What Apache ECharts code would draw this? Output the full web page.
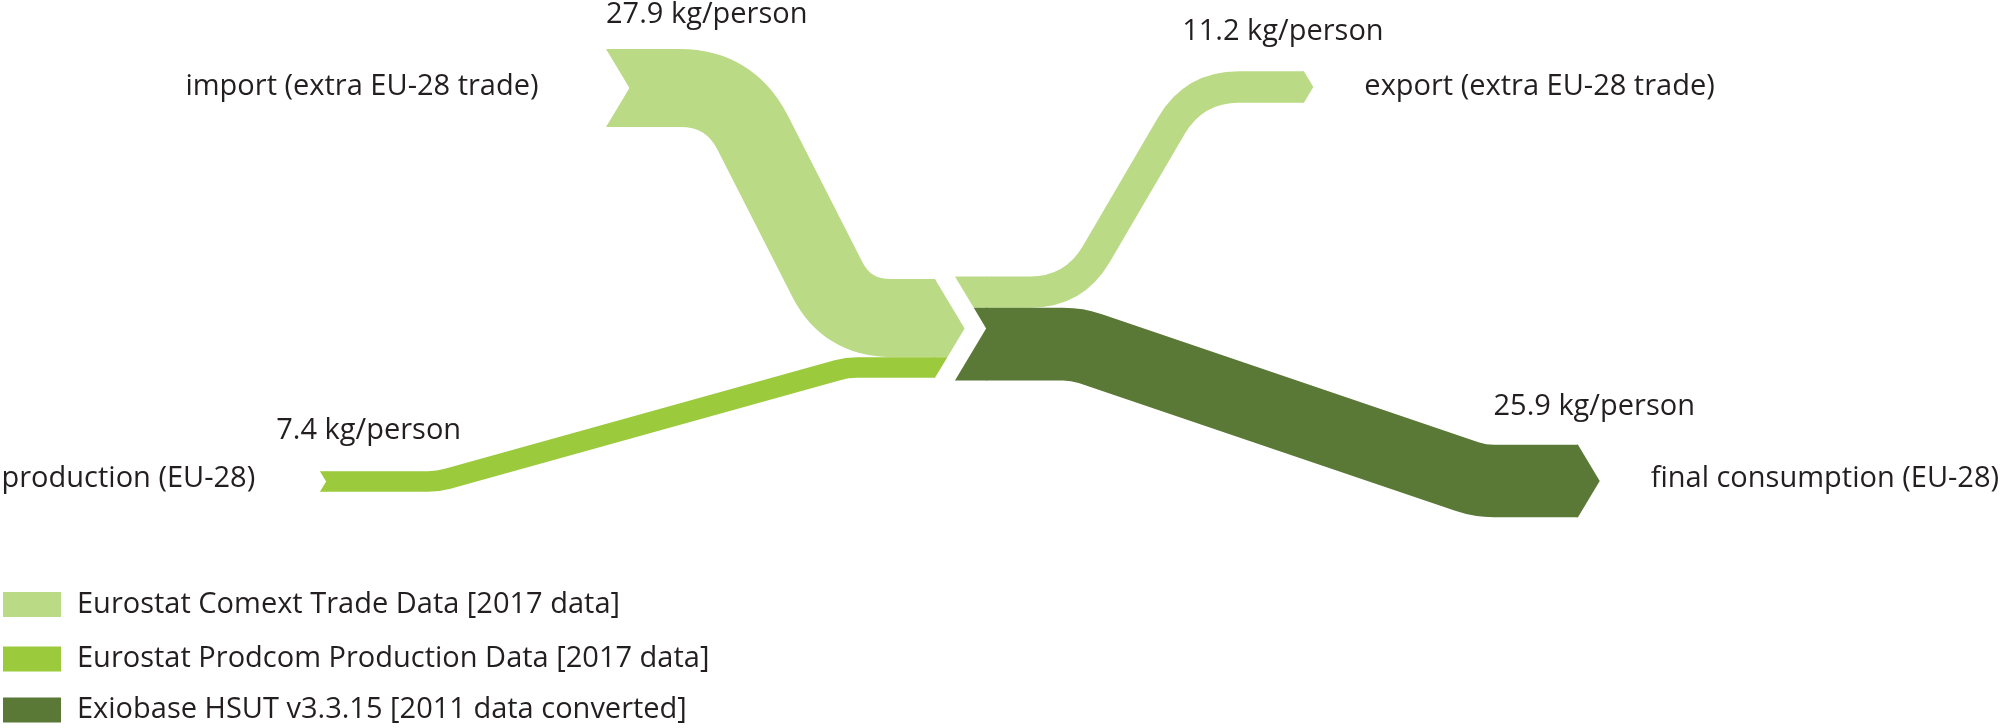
<!DOCTYPE html>
<html><head><meta charset="utf-8">
<script src="https://cdn.jsdelivr.net/npm/echarts@6/dist/echarts.min.js"></script>
<style>html,body{margin:0;padding:0;background:#fff}#c{width:2002px;height:728px}</style>
</head><body><div id="c"></div>
<script>
// ---------------- data ----------------
const flowNames  = ['import (extra EU-28 trade)', 'production (EU-28)', 'export (extra EU-28 trade)', 'final consumption (EU-28)'];
const flowValues = [27.9, 7.4, 11.2, 25.9];            // kg/person
const flowUnit   = 'kg/person';
const flowSide   = ['in', 'in', 'out', 'out'];         // into / out of the EU-28 hub
const flowSource = [0, 1, 0, 2];                       // index into sourceNames
const sourceNames = ['Eurostat Comext Trade Data [2017 data]',
                     'Eurostat Prodcom Production Data [2017 data]',
                     'Exiobase HSUT v3.3.15 [2011 data converted]'];

// ---------------- layout (x: % of width, y: kg/person from top) ----------------
const hubLayout = { xIn: 46.70, xOut: 47.70, y: 117.3 };
const flowLayout = [
  { outerX: 30.27, outerY: 31.43,  bendOuter: 36.46, bendHub: 42.31, round: 52,
    name: [26.9, 31.1, 'right'], val: [30.27, 5.4] },
  { outerX: 15.98, outerY: 171.96, bendOuter: 21.88, bendHub: 42.31, round: 10,
    name: [12.75, 171.1, 'right'], val: [13.8, 153.9] },
  { outerX: 65.13, outerY: 31.07,  bendOuter: 59.64, bendHub: 53.65, round: 45,
    name: [68.15, 31.1, 'left'], val: [59.05, 11.4] },
  { outerX: 78.82, outerY: 171.79, bendOuter: 73.93, bendHub: 53.80, round: 14,
    name: [82.45, 171.1, 'left'], val: [74.6, 145.4] }
];
const legendTops = [590, 644.5, 695.5];
const sourceColors = ['#bbda85', '#9bca3c', '#5a7936'];
const arrowRatio = 0.3;
const textColor = '#231f20';
const font = '29px "Open Sans"';

function fmt(p) { return p[0].toFixed(2) + ' ' + p[1].toFixed(2); }
function roundedPath(pts, r) {
  let d = 'M' + fmt(pts[0]);
  for (let i = 1; i < pts.length - 1; i++) {
    const a = pts[i - 1], p = pts[i], b = pts[i + 1];
    const l1 = Math.hypot(p[0] - a[0], p[1] - a[1]);
    const l2 = Math.hypot(b[0] - p[0], b[1] - p[1]);
    const t = Math.min(r, l1 / 2, l2 / 2);
    const s = [p[0] - (p[0] - a[0]) / l1 * t, p[1] - (p[1] - a[1]) / l1 * t];
    const e = [p[0] + (b[0] - p[0]) / l2 * t, p[1] + (b[1] - p[1]) / l2 * t];
    d += ' L' + fmt(s) + ' Q' + fmt(p) + ' ' + fmt(e);
  }
  d += ' L' + fmt(pts[pts.length - 1]);
  return d;
}

function renderFlow(params, api) {
  const i = api.value(0);
  const v = api.value(1);
  const L = flowLayout[i];
  const color = sourceColors[flowSource[i]];
  const side = flowSide[i];
  const k = api.size([0, 1])[1];                 // px per kg/person
  const w = v * k;
  const members = flowSide.map((s, j) => j).filter(j => flowSide[j] === side);
  let total = 0, offset = 0, found = false;
  members.forEach(j => { if (j === i) found = true; if (!found) offset += flowValues[j]; total += flowValues[j]; });
  const topKg = hubLayout.y - total / 2 + offset;
  const hubX = side === 'in' ? hubLayout.xIn : hubLayout.xOut;
  const hubTop = api.coord([hubX, hubLayout.y - total / 2]);
  const hubBot = api.coord([hubX, hubLayout.y + total / 2]);
  const hubMid = (hubTop[1] + hubBot[1]) / 2;
  const half = (hubBot[1] - hubTop[1]) / 2;
  const D = arrowRatio * (hubBot[1] - hubTop[1]);
  const yTop = api.coord([hubX, topKg])[1];
  const yBot = api.coord([hubX, topKg + v])[1];
  const yHub = (yTop + yBot) / 2;
  const hx = hubTop[0];
  const outer = api.coord([L.outerX, L.outerY]);
  const bO = api.coord([L.bendOuter, L.outerY])[0];
  const bH = api.coord([L.bendHub, L.outerY])[0];
  const d = arrowRatio * w;
  const children = [];
  let pts, caps = [];
  if (side === 'in') {
    pts = [[outer[0] + d, outer[1]], [bO, outer[1]], [bH, yHub], [hx, yHub]];
    caps.push([[outer[0], outer[1] - w / 2], [outer[0] + d + 1, outer[1] - w / 2],
               [outer[0] + d + 1, outer[1] + w / 2], [outer[0], outer[1] + w / 2], [outer[0] + d, outer[1]]]);
    const f = y => hx + D * (1 - Math.abs(y - hubMid) / half);
    const poly = [[hx - 1, yTop], [f(yTop), yTop]];
    if (yTop < hubMid && yBot > hubMid) poly.push([hx + D, hubMid]);
    poly.push([f(yBot), yBot], [hx - 1, yBot]);
    caps.push(poly);
  } else {
    pts = [[hx + D, yHub], [bH, yHub], [bO, outer[1]], [outer[0], outer[1]]];
    const g = y => hx + D * (1 - Math.abs(y - hubMid) / half);
    const poly = [[g(yTop), yTop], [hx + D + 1, yTop], [hx + D + 1, yBot], [g(yBot), yBot]];
    if (yTop < hubMid && yBot > hubMid) poly.push([hx + D, hubMid]);
    caps.push(poly);
    caps.push([[outer[0] - 1, outer[1] - w / 2], [outer[0], outer[1] - w / 2], [outer[0] + d, outer[1]],
               [outer[0], outer[1] + w / 2], [outer[0] - 1, outer[1] + w / 2]]);
  }
  children.push({ type: 'path', shape: { pathData: roundedPath(pts, L.round) },
    style: { fill: null, stroke: color, lineWidth: w, lineCap: 'butt', lineJoin: 'round' } });
  caps.forEach(p => children.push({ type: 'polygon', shape: { points: p }, style: { fill: color, stroke: null } }));
  const np = api.coord([L.name[0], L.name[1]]);
  children.push({ type: 'text', x: np[0], y: np[1],
    style: { text: flowNames[i], fill: textColor, font: font, align: L.name[2], verticalAlign: 'middle' } });
  const vp = api.coord([L.val[0], L.val[1]]);
  children.push({ type: 'text', x: vp[0], y: vp[1],
    style: { text: v.toFixed(1) + ' ' + flowUnit, fill: textColor, font: font, align: 'left', verticalAlign: 'middle' } });
  return { type: 'group', children: children };
}

const chart = echarts.init(document.getElementById('c'), null, { renderer: 'canvas' });
chart.setOption({
  animation: false,
  backgroundColor: '#ffffff',
  grid: { left: 0, right: 0, top: 0, bottom: 0 },
  xAxis: { type: 'value', min: 0, max: 100, show: false },
  yAxis: { type: 'value', min: 0, max: 260, inverse: true, show: false },
  legend: sourceNames.map((s, si) => ({
    data: [s], orient: 'vertical', left: 3, top: legendTops[si], padding: 0,
    icon: 'rect', itemWidth: 58, itemHeight: 25, selectedMode: false,
    textStyle: { fontSize: 29, fontFamily: 'Open Sans', color: textColor, padding: [0, 0, 0, 11] }
  })),
  series: sourceNames.map((s, si) => ({
    type: 'custom', name: s, coordinateSystem: 'cartesian2d', silent: true,
    itemStyle: { color: sourceColors[si] },
    renderItem: renderFlow,
    data: flowValues.map((v, i) => [i, v]).filter(d => flowSource[d[0]] === si)
  }))
});
</script></body></html>
